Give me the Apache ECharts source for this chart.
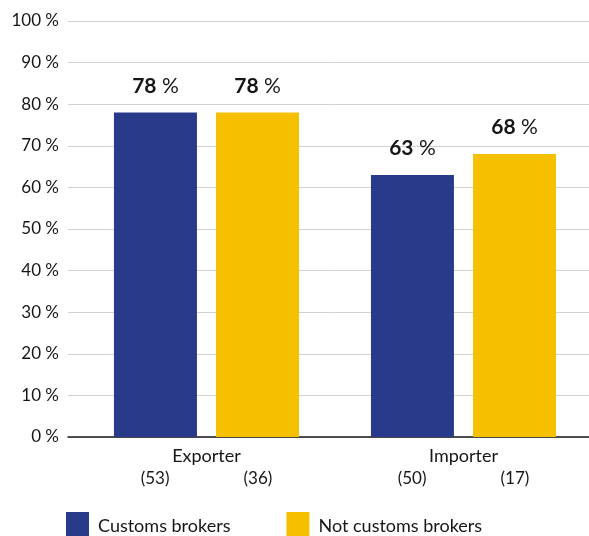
<!DOCTYPE html>
<html>
<head>
<meta charset="utf-8">
<script src="https://cdn.jsdelivr.net/npm/echarts@6/dist/echarts.min.js"></script>
<style>
  html, body { margin: 0; padding: 0; background: #ffffff; }
  #chart { width: 589px; height: 536px; }
</style>
</head>
<body>
<div id="chart"></div>
<script>
// Respondent groups and their sample sizes
const categories = ['Exporter', 'Importer'];
const brokerCounts = [53, 50];
const nonBrokerCounts = [36, 17];

// Share of respondents (%)
const seriesNames = ['Customs brokers', 'Not customs brokers'];
const brokerShares = [78, 63];
const nonBrokerShares = [78, 68];

const FONT = 'Lato, "Noto Sans", sans-serif';
const TEXT = '#161616';
const BLUE = '#2a3a8a';
const YELLOW = '#f5c000';

const chart = echarts.init(document.getElementById('chart'), null, { renderer: 'canvas' });

const valueLabel = {
  show: true,
  position: 'top',
  distance: 16,
  formatter: p => '{b|' + p.value + '}{p| %}',
  rich: {
    b: { fontFamily: FONT, fontSize: 21, fontWeight: 'bold', color: TEXT },
    p: { fontFamily: FONT, fontSize: 21, fontWeight: 'normal', color: TEXT }
  }
};

chart.setOption({
  animation: false,
  textStyle: { fontFamily: FONT, color: TEXT },
  grid: [
    { left: 68, right: 0, top: 21, height: 416, outerBoundsMode: 'none' },
    { left: 78, width: 514, top: 21, height: 416, outerBoundsMode: 'none' }
  ],
  legend: {
    left: 66,
    top: 512,
    padding: 0,
    itemWidth: 23,
    itemHeight: 29,
    itemGap: 56,
    icon: 'rect',
    textStyle: { fontFamily: FONT, fontSize: 18, color: TEXT, padding: [0, 0, 0, 4] },
    data: seriesNames
  },
  xAxis: [
    {
      gridIndex: 0,
      type: 'category',
      data: categories,
      axisLine: { show: true, lineStyle: { color: '#1a1a1a', width: 1.5 } },
      axisTick: { show: false },
      axisLabel: { show: false }
    },
    {
      gridIndex: 1,
      type: 'category',
      data: categories,
      axisLine: { show: false },
      axisTick: { show: false },
      axisLabel: {
        margin: 8,
        formatter: (v, i) =>
          '{t|' + v + '}\n{n|(' + brokerCounts[i] + ')}{g|}{n|(' + nonBrokerCounts[i] + ')}',
        rich: {
          t: { fontFamily: FONT, fontSize: 18, lineHeight: 22, color: TEXT, align: 'center' },
          n: { fontFamily: FONT, fontSize: 17, lineHeight: 24, color: TEXT },
          g: { width: 74 }
        }
      }
    }
  ],
  yAxis: [
    {
      gridIndex: 0,
      type: 'value',
      min: 0,
      max: 100,
      interval: 10,
      axisLine: { show: false },
      axisTick: { show: false },
      axisLabel: {
        margin: 9,
        fontFamily: FONT,
        fontSize: 17,
        color: TEXT,
        formatter: '{value} %'
      },
      splitLine: { lineStyle: { color: '#d2d2d2', width: 1 } }
    },
    {
      gridIndex: 1,
      type: 'value',
      min: 0,
      max: 100,
      interval: 10,
      show: false
    }
  ],
  series: [
    {
      name: seriesNames[0],
      type: 'bar',
      xAxisIndex: 1,
      yAxisIndex: 1,
      data: brokerShares,
      barWidth: 83,
      barGap: '23%',
      itemStyle: { color: BLUE },
      label: valueLabel
    },
    {
      name: seriesNames[1],
      type: 'bar',
      xAxisIndex: 1,
      yAxisIndex: 1,
      data: nonBrokerShares,
      barWidth: 83,
      barGap: '23%',
      itemStyle: { color: YELLOW },
      label: valueLabel
    }
  ]
});
</script>
</body>
</html>
